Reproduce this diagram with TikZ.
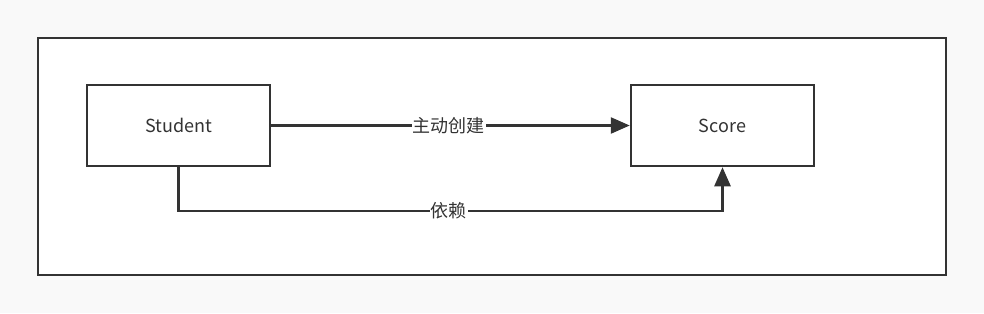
\documentclass[tikz,border=0pt]{standalone}
\usepackage{fontspec}
\setmainfont{Noto Sans CJK SC}
\usetikzlibrary{arrows.meta,positioning}
\definecolor{ink}{RGB}{51,51,51}
\definecolor{paper}{RGB}{249,249,249}
\tikzset{
  box/.style={draw=ink, line width=2.5pt, fill=white, minimum width=183pt, minimum height=81pt, inner sep=0pt},
  conn/.style={draw=ink, line width=2.5pt, -{Triangle[length=19pt,width=16pt]}},
  tag/.style={fill=white, text=ink, inner sep=1pt, font=\fontsize{18}{20}\selectfont},
}

\begin{document}
\begin{tikzpicture}[x=1pt, y=-1pt, font=\fontsize{18}{20}\selectfont, text=ink]

    %%% background %%%
    \fill[paper] (0,0) rectangle (984,313);
    \useasboundingbox (0,0) rectangle (984,313);
    \draw[ink, line width=2.5pt, fill=white] (38,38) rectangle (946,275);

    %%% classes %%%
    \node[box] (student) at (178.5,125.5) {Student};
    \node[box] (score)   at (722.5,125.5) {Score};
    \coordinate (bend) at (score.south |- 0,211);

    %%% relations %%%
    \draw[conn] (student.east) -- (score.west) node[tag, midway, xshift=-2pt] {主动创建};
    \draw[conn] (student.south) |- (bend) -- (score.south);
    \path (student.south |- bend) -- (bend) node[tag, midway, xshift=-2pt] {依赖};

\end{tikzpicture}
\end{document}
